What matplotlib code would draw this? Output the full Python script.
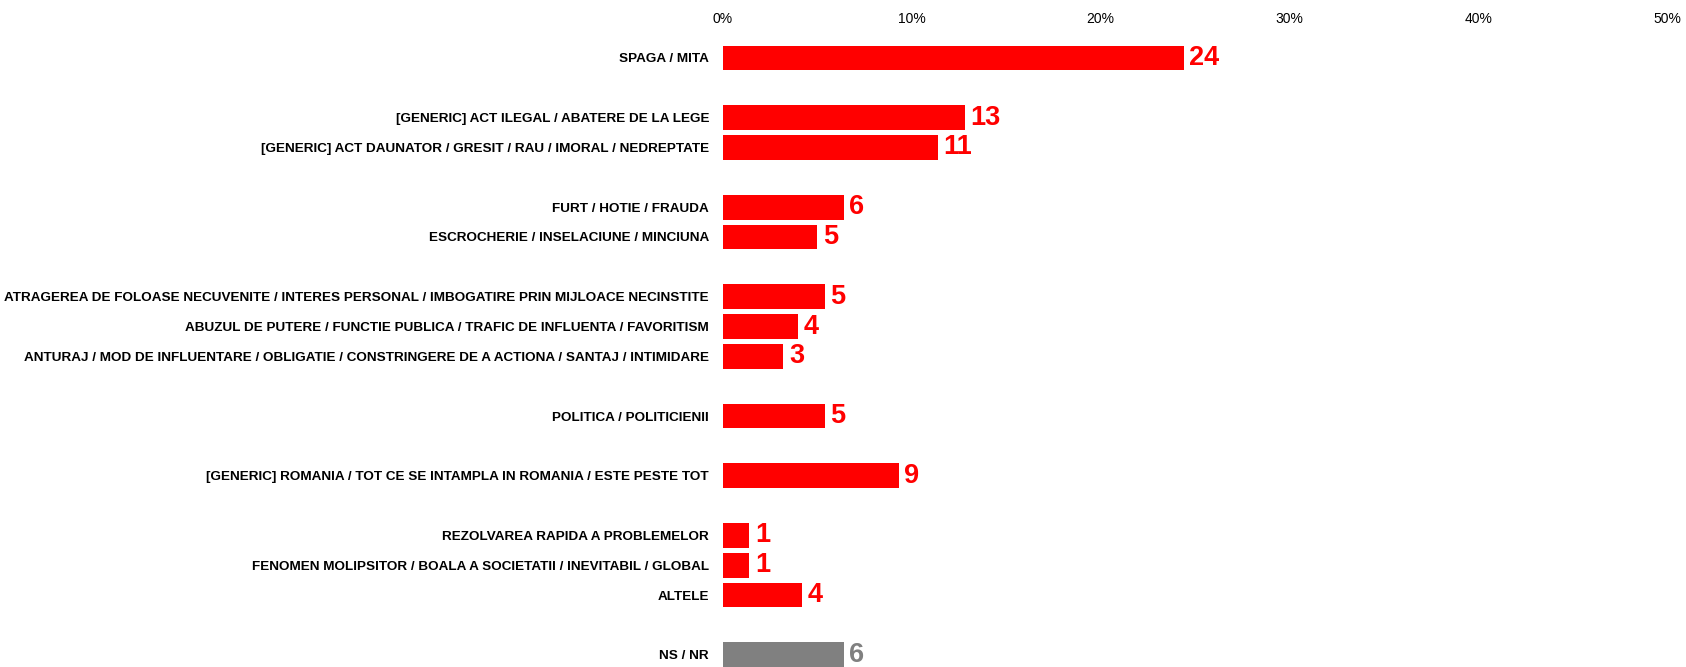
import matplotlib
matplotlib.use("Agg")
import matplotlib.pyplot as plt

# categories (top to bottom) with the row they sit on (empty rows separate groups)
categories = [
    "SPAGA / MITA",
    "[GENERIC] ACT ILEGAL / ABATERE DE LA LEGE",
    "[GENERIC] ACT DAUNATOR / GRESIT / RAU / IMORAL / NEDREPTATE",
    "FURT / HOTIE / FRAUDA",
    "ESCROCHERIE / INSELACIUNE / MINCIUNA",
    "ATRAGEREA DE FOLOASE NECUVENITE / INTERES PERSONAL / IMBOGATIRE PRIN MIJLOACE NECINSTITE",
    "ABUZUL DE PUTERE / FUNCTIE PUBLICA / TRAFIC DE INFLUENTA / FAVORITISM",
    "ANTURAJ / MOD DE INFLUENTARE / OBLIGATIE / CONSTRINGERE DE A ACTIONA / SANTAJ / INTIMIDARE",
    "POLITICA / POLITICIENII",
    "[GENERIC] ROMANIA / TOT CE SE INTAMPLA IN ROMANIA / ESTE PESTE TOT",
    "REZOLVAREA RAPIDA A PROBLEMELOR",
    "FENOMEN MOLIPSITOR / BOALA A SOCIETATII / INEVITABIL / GLOBAL",
    "ALTELE",
    "NS / NR",
]
rows = [0, 2, 3, 5, 6, 8, 9, 10, 12, 14, 16, 17, 18, 20]
values = [24.4, 12.8, 11.4, 6.4, 5.0, 5.4, 4.0, 3.2, 5.4, 9.3, 1.4, 1.4, 4.2, 6.4]
labels = ["24", "13", "11", "6", "5", "5", "4", "3", "5", "9", "1", "1", "4", "6"]
xticks = [0, 10, 20, 30, 40, 50]

RED = "#FF0000"
GREY = "#808080"
colors = [RED] * (len(values) - 1) + [GREY]

fonts = ["Liberation Sans", "DejaVu Sans"]

fig = plt.figure(figsize=(16.86, 6.67), dpi=100)
ax = fig.add_axes([0.4288, 0.0, 0.5599, 0.9355])

ax.barh(rows, values, height=0.83, color=colors, edgecolor="none")

for r, v, lab, c in zip(rows, values, labels, colors):
    ax.annotate(lab, (v, r), xytext=(4, 0), textcoords="offset points",
                va="center", ha="left", color=c, fontsize=19.5,
                fontweight="bold", family=fonts)

ax.set_xlim(0, 50)
ax.set_ylim(20.41, -0.5)
ax.set_yticks(rows)
ax.set_yticklabels(categories, fontsize=9.7, fontweight="bold", family=fonts)
ax.set_xticks(xticks)
ax.set_xticklabels([f"{t}%" for t in xticks], fontsize=10, family=fonts)
ax.xaxis.tick_top()
ax.tick_params(axis="both", length=0)
ax.tick_params(axis="x", pad=12)
ax.tick_params(axis="y", pad=10)
for s in ax.spines.values():
    s.set_visible(False)

fig.savefig("out.png", dpi=100)
